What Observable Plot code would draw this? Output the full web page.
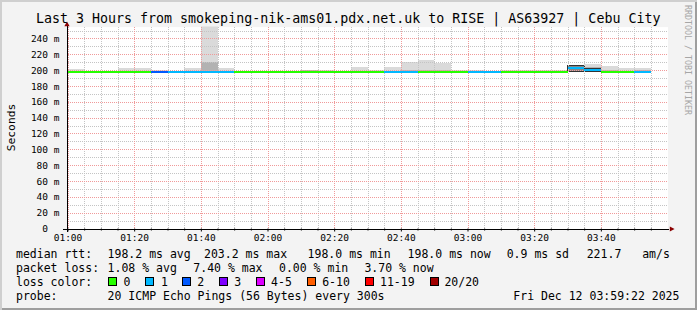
<!DOCTYPE html>
<html><head><meta charset="utf-8">
<script src="https://cdn.jsdelivr.net/npm/d3@7"></script>
<script src="https://cdn.jsdelivr.net/npm/@observablehq/plot@0.6"></script>
<style>
html,body{margin:0;padding:0;background:#f3f3f3;}
#wrap{position:relative;width:697px;height:310px;background:#f3f3f3;overflow:hidden;}
#wrap svg{position:absolute;left:0;top:0;}
#border{position:absolute;left:0;top:0;width:697px;height:310px;box-sizing:border-box;box-shadow:inset 2px 2px 0 #cfcfcf, inset -2px -2px 0 #9e9e9e;pointer-events:none;}
</style></head><body>
<div id="wrap"><div id="border"></div></div>
<script>
// ---------- data ----------
const binStarts = ["01:00","01:05","01:10","01:15","01:20","01:25","01:30","01:35","01:40","01:45","01:50","01:55","02:00","02:05","02:10","02:15","02:20","02:25","02:30","02:35","02:40","02:45","02:50","02:55","03:00","03:05","03:10","03:15","03:20","03:25","03:30","03:35","03:40","03:45","03:50"];
const medianMs  = [198.3,198.2,198.2,198.3,198.3,198.2,198.2,198.3,198.4,198.3,198.2,198.1,198.2,198.2,198.1,198.2,198.2,198.3,198.2,198.2,198.3,198.4,198.3,198.2,198.2,198.1,198.2,198.2,198.2,198.2,203.2,200.8,198.3,198.2,198.0];
const lossPct   = [0,0,0,0,0,7.40,2.5,3.0,4.2,2.2,0,0,0,0,0,0,0,0,0,1.8,3.2,0,0,0,2.4,2.0,0,0,0,0,3.5,2.0,0,0,3.70];
const pingMinMs = [198.0,198.0,198.0,198.0,198.0,198.0,198.0,198.0,198.0,198.0,198.0,198.0,198.0,198.0,198.0,198.0,198.0,198.0,198.0,198.0,198.0,198.0,198.0,198.0,198.0,198.0,198.0,198.0,198.0,198.0,198.5,198.4,198.0,198.0,198.0];
const pingMaxMs = [201.0,199.2,199.0,202.8,202.8,200.0,199.5,202.8,262.0,202.8,199.2,199.0,199.3,199.5,199.8,199.6,199.2,203.6,200.8,203.7,209.7,212.6,209.5,200.8,199.6,199.4,200.2,200.8,200.8,200.6,206.8,208.2,205.3,202.7,202.7];
const coreTopMs = [199.0,198.8,198.8,199.2,199.2,198.8,198.8,199.2,210.0,199.2,198.8,198.8,199.2,199.4,199.6,199.4,198.8,199.4,199.0,199.4,200.0,200.4,199.8,199.0,198.8,198.8,199.2,199.4,199.4,199.2,206.0,204.5,200.5,199.4,200.0];
const denseTopMs = [null,null,null,null,null,null,null,null,null,null,null,null,null,null,null,null,null,null,null,null,null,null,null,null,null,null,null,null,null,null,205.6,202.2,null,null,null];

const yTicks = [0,20,40,60,80,100,120,140,160,180,200,220,240];
const xTickLabels = ["01:00","01:20","01:40","02:00","02:20","02:40","03:00","03:20","03:40"];
const axisStart = "01:00", axisEnd = "04:00";

const title = "Last 3 Hours from smokeping-nik-ams01.pdx.net.uk to RISE | AS63927 | Cebu City";
const yLabel = "Seconds";
const rrdCredit = "RRDTOOL / TOBI OETIKER";
const rttStats = ["198.2 ms avg","203.2 ms max","198.0 ms min","198.0 ms now","0.9 ms sd","221.7","am/s"];
const lossStats = ["1.08 % avg","7.40 % max","0.00 % min","3.70 % now"];
const lossLegend = ["0","1","2","3","4-5","6-10","11-19","20/20"];
const lossColors = ["#26ff00","#00b8ff","#0059ff","#7e00ff","#dd00ff","#ff5e00","#ff0000","#a10000"];
const probeText = "20 ICMP Echo Pings (56 Bytes) every 300s";
const dateText = "Fri Dec 12 03:59:22 2025";

// ---------- build ----------
const parseT = d3.utcParse("%H:%M");
const stepMs = 5 * 60 * 1000;
function lossClass(pct) {
  const n = pct / 100 * 20;
  if (n === 0) return 0;
  if (n <= 1) return 1;
  if (n <= 2) return 2;
  if (n <= 3) return 3;
  if (n <= 5) return 4;
  if (n <= 10) return 5;
  if (n <= 19) return 6;
  return 7;
}
const bins = binStarts.map((s, i) => ({
  start: parseT(s),
  end: new Date(+parseT(s) + stepMs),
  median: medianMs[i],
  lo: pingMinMs[i],
  hi: pingMaxMs[i],
  core: coreTopMs[i],
  dense: denseTopMs[i],
  color: lossColors[lossClass(lossPct[i])]
}));
const X0 = parseT(axisStart), X1 = parseT(axisEnd);
const majorX = xTickLabels.map(parseT);
const minorX = d3.utcMinute.every(5).range(X0, X1).filter(d => d.getUTCMinutes() % 20 !== 0);
const majorY = yTicks.slice(1);
const minorY = d3.range(10, 260, 20);

const gridGrey = "#c4c4c4", gridRed = "#f09a9a";
const upTri = {draw(ctx) { ctx.moveTo(0, -2.6); ctx.lineTo(2.6, 2.2); ctx.lineTo(-2.6, 2.2); ctx.closePath(); }};
const rightTri = {draw(ctx) { ctx.moveTo(2.6, 0); ctx.lineTo(-2.2, 2.6); ctx.lineTo(-2.2, -2.6); ctx.closePath(); }};

const plot = Plot.plot({
  width: 697, height: 310,
  marginLeft: 67.5, marginRight: 29.5, marginTop: 26.6, marginBottom: 81.5,
  style: {background: "transparent", fontFamily: "'DejaVu Sans Mono', monospace", fontSize: "9.5px", overflow: "visible", color: "#000"},
  x: {type: "utc", domain: [X0, X1], label: null},
  y: {domain: [0, 255], label: null},
  marks: [
    Plot.frame({fill: "white", stroke: "none"}),
    Plot.rectY(bins, {x1: "start", x2: "end", y1: "lo", y2: "hi", fill: "#dadada", clip: true, shapeRendering: "crispEdges"}),
    Plot.rectY(bins, {x1: "start", x2: "end", y1: "lo", y2: "core", fill: "#b2b2b2", clip: true, shapeRendering: "crispEdges"}),
    Plot.rectY(bins.filter(d => d.dense != null), {x1: "start", x2: "end", y1: "lo", y2: "dense", fill: "#858585", stroke: "#333", strokeWidth: 1, shapeRendering: "crispEdges"}),
    Plot.ruleX(minorX, {stroke: gridGrey, strokeDasharray: "1,1", shapeRendering: "crispEdges"}),
    Plot.ruleY(minorY, {stroke: gridGrey, strokeDasharray: "1,1", shapeRendering: "crispEdges"}),
    Plot.ruleX(majorX, {stroke: gridRed, strokeDasharray: "1,1", shapeRendering: "crispEdges"}),
    Plot.ruleY(majorY, {stroke: gridRed, strokeDasharray: "1,1", shapeRendering: "crispEdges"}),
    Plot.ruleY(bins, {x1: "start", x2: "end", y: "median", stroke: "color", strokeWidth: 2, shapeRendering: "crispEdges"}),
    Plot.ruleX([X0], {stroke: "#000", dx: -1, insetBottom: -3, insetTop: -1, shapeRendering: "crispEdges"}),
    Plot.ruleY([0], {stroke: "#000", insetLeft: -4.5, insetRight: -1.5, shapeRendering: "crispEdges"}),
    Plot.dot([0], {frameAnchor: "top-left", symbol: upTri, fill: "#8b0000", stroke: "none", dx: -1, dy: -3}),
    Plot.dot([0], {frameAnchor: "bottom-right", symbol: rightTri, fill: "#8b0000", stroke: "none", dx: 4, dy: 0}),
    Plot.axisY({ticks: yTicks, tickSize: 0, tickPadding: 8.5, tickFormat: d => d === 0 ? "0\u00a0\u00a0" : `${d} m`, label: null, fontSize: "9.5px"}),
    Plot.axisX({ticks: minorX, tickSize: 2, tickFormat: () => "", label: null}),
    Plot.axisX({ticks: majorX, tickSize: 3, tickPadding: 2.5, tickFormat: d3.utcFormat("%H:%M"), label: null, fontSize: "9.5px"})
  ]
});
document.getElementById("wrap").prepend(plot);

// ---------- texts ----------
const svg = d3.select(plot);
const mono = "'DejaVu Sans Mono', monospace";
const g = svg.append("g").attr("font-family", mono).attr("fill", "#000").attr("text-anchor", "start");
g.append("text").attr("x", 36).attr("y", 22.8).attr("font-size", "13.3px").text(title);
g.append("text").attr("transform", "translate(14.5,127.5) rotate(-90)").attr("text-anchor", "middle").attr("font-size", "11.3px").text(yLabel);
g.append("text").attr("transform", "translate(685,5) rotate(90)").attr("font-size", "8.3px").attr("fill", "#a6a6a6").text(rrdCredit);

const fs = "11.5px";
const row = (y, x, s) => g.append("text").attr("x", x).attr("y", y).attr("font-size", fs).text(s);
row(258, 16, "median rtt:");
[107.6, 204, 307.6, 407.6, 506.7, 586.7, 642.2].forEach((x, i) => row(258, x, rttStats[i]));
row(272, 16, "packet loss:");
[107.6, 193.3, 279, 364.4].forEach((x, i) => row(272, x, lossStats[i]));
row(286, 16, "loss color:");
const boxX = [108.5, 145.5, 182.5, 219.5, 256.5, 307.5, 365.5, 430.5];
const labX = [123.6, 160.9, 197.3, 234.2, 271.1, 322.2, 380, 444.4];
lossLegend.forEach((s, i) => {
  g.append("rect").attr("x", boxX[i]).attr("y", 277.5).attr("width", 8).attr("height", 8).attr("fill", lossColors[i]).attr("stroke", "#000").attr("stroke-width", 1);
  row(286, labX[i], s);
});
row(300, 16, "probe:");
row(300, 107.6, probeText);
row(300, 513.3, dateText);
</script></body></html>
